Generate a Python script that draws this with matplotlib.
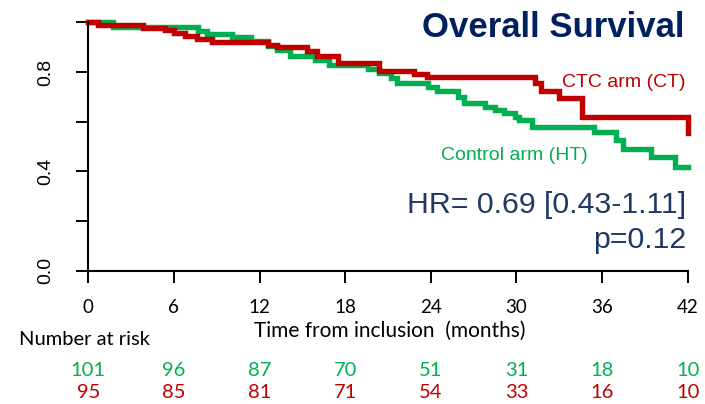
import numpy as np
import matplotlib.pyplot as plt
from matplotlib.transforms import blended_transform_factory

# data (Kaplan-Meier steps, value after each step)
ht_time = [0, 1.7, 7.7, 8.3, 10.1, 11.4, 12.6, 13.2, 14.1, 15.9, 16.9, 19.6, 20.4, 21.2, 21.6,
           23.8, 24.4, 25.9, 26.3, 27.8, 28.5, 29.1, 29.9, 30.2, 31.1, 35.4, 37.0, 37.5,
           39.4, 41.1, 42.0]
ht_surv = [1.0, 0.982, 0.965, 0.952, 0.942, 0.925, 0.905, 0.888, 0.865, 0.848, 0.828, 0.81,
           0.795, 0.775, 0.754, 0.740, 0.723, 0.700, 0.676, 0.658, 0.645, 0.633, 0.620, 0.606,
           0.580, 0.559, 0.526, 0.490, 0.456, 0.419, 0.419]
ct_time = [0, 0.7, 3.85, 5.4, 6.0, 6.8, 7.6, 8.65, 12.6, 13.2, 15.3, 16.0, 17.5, 20.4, 22.8,
           23.7, 31.3, 31.7, 33.0, 34.6, 42.0]
ct_surv = [1.0, 0.989, 0.979, 0.969, 0.958, 0.946, 0.934, 0.920, 0.909, 0.899, 0.885, 0.864,
           0.835, 0.804, 0.792, 0.778, 0.755, 0.724, 0.696, 0.620, 0.555]

months = [0, 6, 12, 18, 24, 30, 36, 42]
risk_ht = [101, 96, 87, 70, 51, 31, 18, 10]
risk_ct = [95, 85, 81, 71, 54, 33, 16, 10]

red = '#C00000'
green = '#00B050'
navy = '#002060'

W, H = 705, 404
fig = plt.figure(figsize=(W / 100, H / 100), dpi=100)
# axes placed so 0..42 months and 0..1 match the reference pixels
ax = fig.add_axes([88.3 / W, 1 - 270.7 / H, (687.7 - 88.3) / W, (270.7 - 22.3) / H])
ax.set_xlim(0, 42)
ax.set_ylim(0, 1)

ax.step(ht_time, ht_surv, where='post', color=green, lw=3.9, clip_on=False, solid_joinstyle='miter')
ax.step(ct_time, ct_surv, where='post', color=red, lw=3.9, clip_on=False, solid_joinstyle='miter')

for s in ['top', 'right']:
    ax.spines[s].set_visible(False)
for s in ['left', 'bottom']:
    ax.spines[s].set_linewidth(1.5)

ax.set_yticks([0, 0.2, 0.4, 0.6, 0.8, 1.0])
ax.set_yticklabels(['0.0', '', '0.4', '', '0.8', ''], rotation=90, va='center',
                   fontfamily='Liberation Sans', fontsize=14)
ax.tick_params(axis='y', length=8.6, width=1.4, pad=16)
ax.set_xticks(months)
ax.set_xticklabels([str(m) for m in months], fontfamily='Lato', fontsize=13.5)
ax.tick_params(axis='x', length=8.6, width=1.4, pad=12)

def px(x, y):
    return x / W, 1 - y / H

fig.text(*px(685, 36.7), 'Overall Survival', ha='right', va='baseline', fontsize=25,
         fontweight='bold', color=navy, family='Liberation Sans')
fig.text(*px(685, 87.3), 'CTC arm (CT)', ha='right', va='baseline', fontsize=14,
         color=red, family='Liberation Sans')
fig.text(*px(588, 160.5), 'Control arm (HT)', ha='right', va='baseline', fontsize=14,
         color=green, family='Liberation Sans')
fig.text(*px(686, 213.3), 'HR= 0.69 [0.43-1.11]', ha='right', va='baseline', fontsize=21.8,
         color='#203864', family='Liberation Sans')
fig.text(*px(686, 248.5), 'p=0.12', ha='right', va='baseline', fontsize=21.8,
         color='#203864', family='Liberation Sans')

fig.text(*px(390, 337), 'Time from inclusion  (months)', ha='center', va='baseline',
         fontsize=15, family='Lato')
fig.text(*px(19, 345), 'Number at risk', ha='left', va='baseline', fontsize=14.5, family='Lato')

tr = blended_transform_factory(ax.transData, fig.transFigure)
for m, a, b in zip(months, risk_ht, risk_ct):
    ax.text(m, 1 - 376.5 / H, str(a), transform=tr, ha='center', va='baseline',
            fontsize=14.5, color=green, family='Lato')
    ax.text(m, 1 - 398.5 / H, str(b), transform=tr, ha='center', va='baseline',
            fontsize=14.5, color=red, family='Lato')

fig.savefig('out.png', dpi=100)
